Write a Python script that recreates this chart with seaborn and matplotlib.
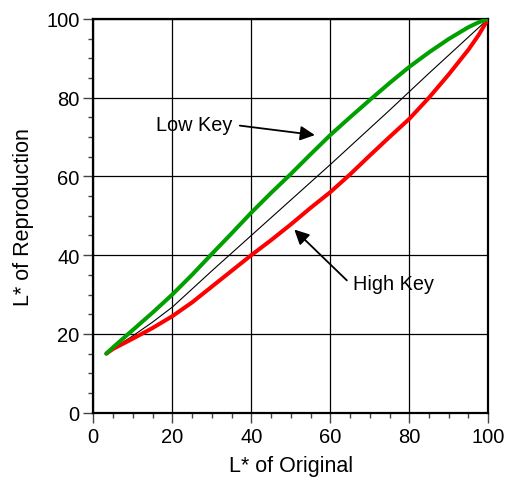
import numpy as np
import pandas as pd
import seaborn as sns
import matplotlib.pyplot as plt

# values
original = [3.3, 5, 10, 15, 20, 25, 30, 35, 40, 45, 50, 55, 60, 65, 70, 75, 80, 85, 90, 95, 97.5, 100]
low_key = [15, 16.6, 21, 25.4, 30, 35, 40.3, 45.5, 50.8, 55.8, 60.6, 65.6, 70.5, 75, 79.4, 83.7, 87.8, 91.5, 94.9, 97.9, 99.1, 100]
high_key = [15, 16.2, 18.8, 21.5, 24.5, 28, 32, 36, 40, 43.8, 47.8, 52, 56, 60.5, 65.3, 70, 74.6, 80, 85.9, 92.2, 95.8, 100]
linear = [15, 16.3, 19.5, 23, 26.8, 31.4, 36, 40.5, 45, 49.5, 54, 58.5, 63, 67.6, 72.2, 76.8, 81.5, 86.2, 90.8, 95.4, 97.7, 100]

ticks = [0, 20, 40, 60, 80, 100]

df = pd.DataFrame({"original": original, "low": low_key,
                   "high": high_key, "linear": linear})

sns.set_theme(style="ticks")
plt.rcParams['font.family'] = ['Liberation Sans', 'DejaVu Sans']
plt.rcParams['text.color'] = 'black'
plt.rcParams['axes.labelcolor'] = 'black'
plt.rcParams['xtick.labelcolor'] = 'black'
plt.rcParams['ytick.labelcolor'] = 'black'

fig = plt.figure(figsize=(5.07, 4.85), dpi=100)
ax = fig.add_axes([0.184, 0.147, 0.779, 0.812])

ax.grid(True, color="black", linewidth=0.9, zorder=0)
ax.set_axisbelow(True)

sns.lineplot(data=df, x="original", y="linear", color="black", linewidth=0.8, ax=ax, zorder=3)
sns.lineplot(data=df, x="original", y="high", color="#ff0000", linewidth=2.9, ax=ax, zorder=4)
sns.lineplot(data=df, x="original", y="low", color="#00a000", linewidth=2.9, ax=ax, zorder=5)

ax.set_xlim(0, 100)
ax.set_ylim(0, 100)
ax.set_xticks(ticks)
ax.set_yticks(ticks)
ax.set_xticks(np.arange(0, 101, 5), minor=True)
ax.set_yticks(np.arange(0, 101, 5), minor=True)
ax.tick_params(which="major", length=7, width=1, color="#444444", labelsize=14.5, pad=3)
ax.tick_params(which="minor", length=3.5, width=1, color="#444444")
for s in ax.spines.values():
    s.set_linewidth(1.6)
    s.set_color("black")

ax.set_xlabel("L* of Original", fontsize=15.5, labelpad=7)
ax.set_ylabel("L* of Reproduction", fontsize=15.5, labelpad=9)

arrow = dict(arrowstyle="-|>", color="black", lw=1.3, mutation_scale=22,
             shrinkA=0, shrinkB=0)
ax.annotate("", xy=(56.1, 70.5), xytext=(37.1, 72.9), arrowprops=arrow, zorder=6)
ax.text(15.9, 73.3, "Low Key", fontsize=14.3, ha="left", va="center", zorder=6)
ax.annotate("", xy=(50.9, 46.5), xytext=(64.2, 33.6), arrowprops=arrow, zorder=6)
ax.text(65.8, 32.7, "High Key", fontsize=14.3, ha="left", va="center", zorder=6)

fig.savefig("out.png", dpi=100)
